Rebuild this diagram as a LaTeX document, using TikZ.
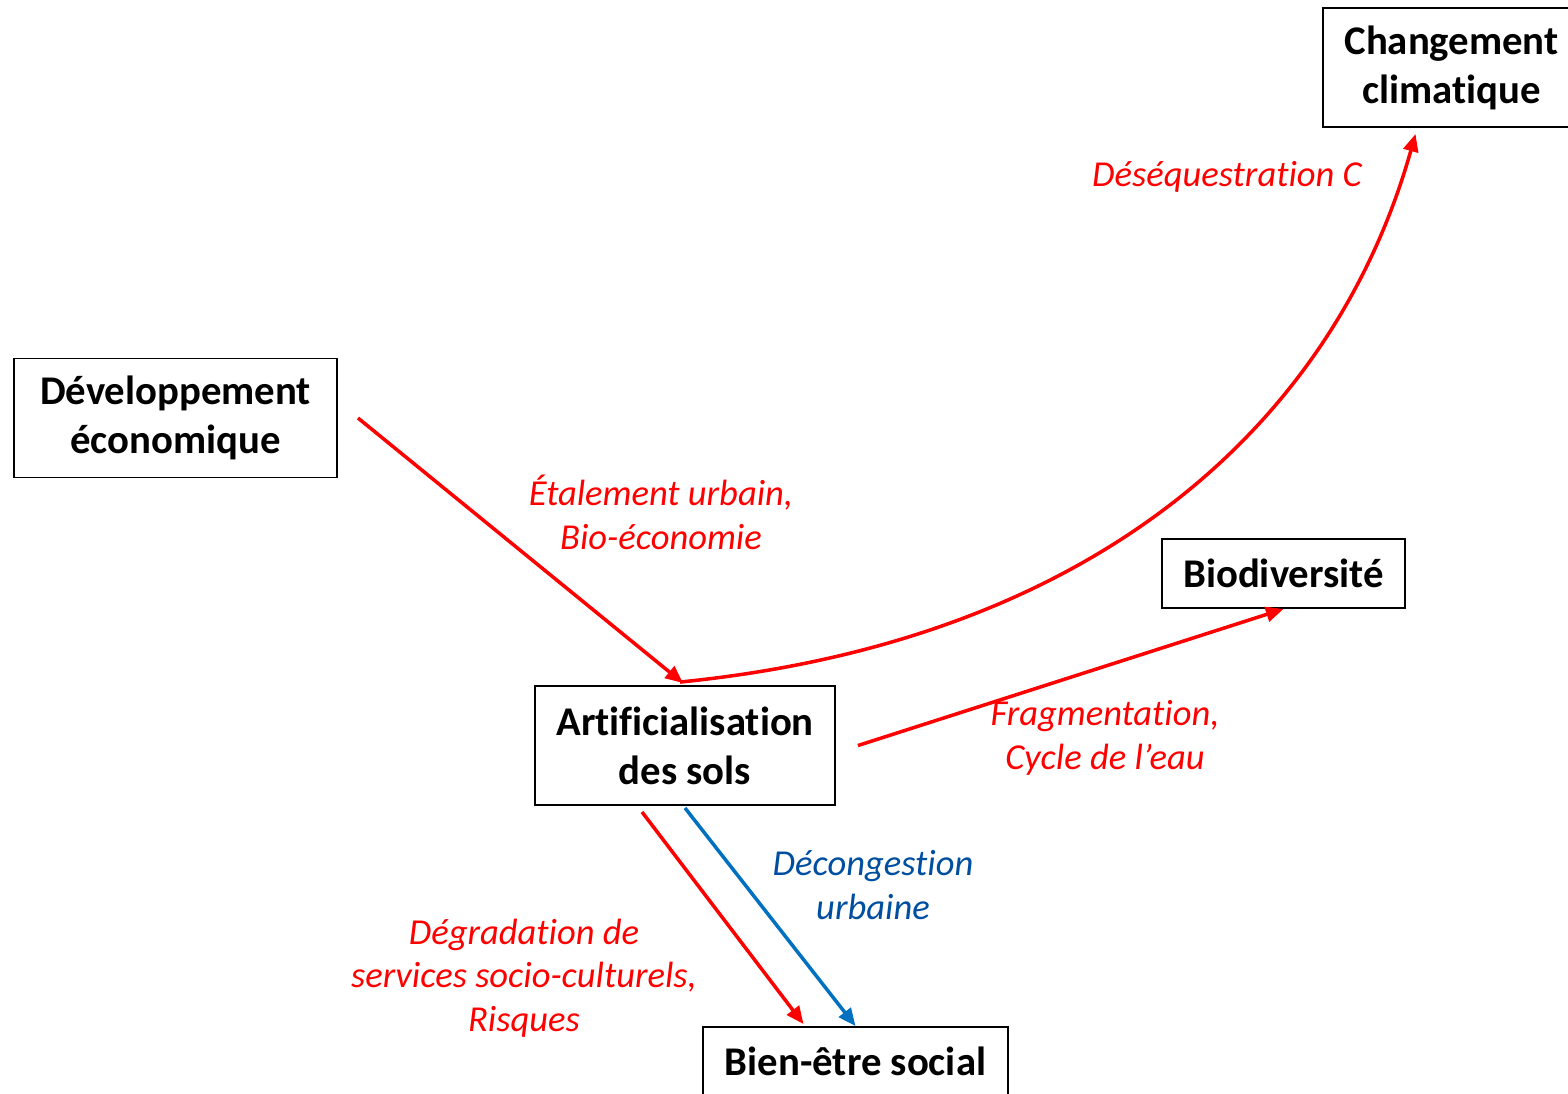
\documentclass[tikz,border=0pt]{standalone}
\usepackage{fontspec}
\setmainfont[Ligatures={NoCommon,NoDiscretionary}]{Carlito}
\usetikzlibrary{arrows.meta,calc}

\definecolor{flowred}{RGB}{255,0,0}
\definecolor{flowblue}{RGB}{0,112,192}
\definecolor{labelblue}{RGB}{0,78,160}

\tikzset{
  box/.style={draw,line width=1.1pt,align=center,inner sep=0pt,
    font=\fontsize{23.2}{28}\selectfont\bfseries},
  flow/.style={line width=2pt,-{Triangle[length=10pt,width=8.5pt]}},
  effect/.style={align=center,font=\fontsize{20.8}{24.9}\selectfont\itshape},
}

\begin{document}
\begin{tikzpicture}[x=0.02cm,y=-0.02cm,line cap=butt,line join=miter]
  \useasboundingbox (0,0) rectangle (1568,1093);

  % boxes
  \node[box,minimum width=323*0.02cm,minimum height=119*0.02cm] (dev) at (175.5,418) {D\'eveloppement\\\'economique};
  \node[box,minimum width=257*0.02cm,minimum height=119*0.02cm] (chg) at (1451.5,67.5) {Changement\\climatique};
  \node[box,minimum width=243*0.02cm,minimum height=69*0.02cm] (bio) at (1283.5,573.5) {Biodiversit\'e};
  \node[box,minimum width=300*0.02cm,minimum height=119*0.02cm] (art) at (685,745.5) {Artificialisation\\des sols};
  \node[box,minimum width=305*0.02cm,minimum height=69*0.02cm] (bien) at (855.5,1061.5) {Bien-\^etre social};

  % arrows
  \draw[flow,flowred] ($(dev.east)+(20,0)$) -- ($(art.north)+(-2,-2)$);
  \draw[flow,flowred] ($(art.north)+(-5,-3)$) .. controls (1100,640) and (1335,420) .. ($(chg.south)+(-36,6)$);
  \draw[flow,flowred] ($(art.east)+(22,0)$) -- (bio.south);
  \draw[flow,flowred] ($(art.south)+(-43,6)$) -- ($(bien.north)+(-52,-2)$);
  \draw[flow,flowblue] ($(art.south)+(0,2)$) -- (bien.north);

  % labels
  \node[effect,text=flowred] (lblc) at (1227,177) {D\'es\'equestration C};
  \node[effect,text=flowred] (lbletal) at (661,512) {\'Etalement urbain,\\Bio-\'economie};
  \node[effect,text=flowred] (lblfrag) at (1105,738) {Fragmentation,\\Cycle de l’eau};
  \node[effect,text=labelblue] (lbldec) at (873,885) {D\'econgestion\\urbaine};
  \node[effect,text=flowred] (lbldeg) at (524,978) {D\'egradation de\\services socio-culturels,\\Risques};
\end{tikzpicture}
\end{document}
